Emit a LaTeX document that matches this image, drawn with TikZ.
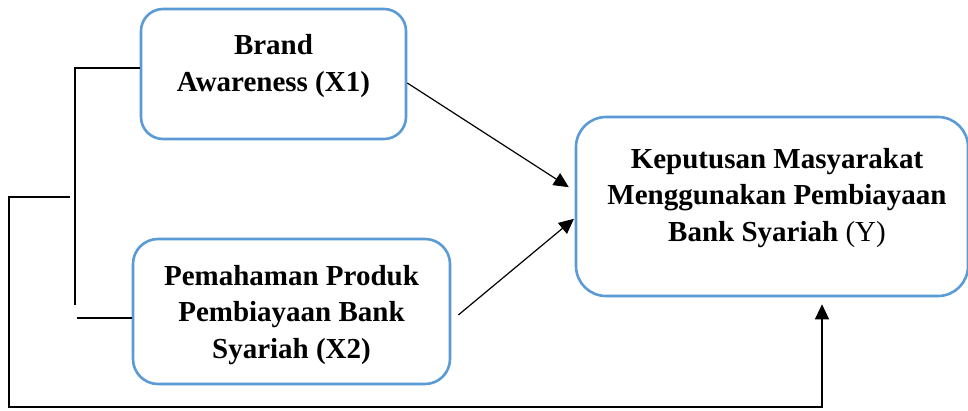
\documentclass[tikz,border=0pt]{standalone}
\usepackage{fontspec}
\setmainfont{Liberation Serif}
\usetikzlibrary{arrows.meta}
\definecolor{boxblue}{HTML}{5B9BD5}
\begin{document}
\begin{tikzpicture}[x=1pt,y=-1pt,
  box/.style={draw=boxblue, line width=2.6pt, rounded corners=#1, inner sep=0pt},
  box/.default=22pt,
  lbl/.style={align=center, font=\fontsize{29}{36.5}\selectfont\bfseries, inner sep=0pt},
  conn/.style={line width=1.2pt, black},
  arr/.style={conn, -{Triangle[length=15pt,width=14pt]}}]
\useasboundingbox (0,0) rectangle (968,410);
% boxes
\node[box=22pt, minimum width=265pt, minimum height=130pt] (x1) at (273.5,74) {};
\node[box=25pt, minimum width=317pt, minimum height=145pt] (x2) at (291.5,311.5) {};
\node[box=30pt, minimum width=392pt, minimum height=179pt] (y) at (772,206.5) {};
% texts
\node[lbl] (t1) at (273.5,66) {Brand\\Awareness (X1)};
\node[lbl] (t2) at (291.5,315) {Pemahaman Produk\\Pembiayaan Bank\\Syariah (X2)};
\node[lbl] (t3) at (777,198) {Keputusan Masyarakat\\Menggunakan Pembiayaan\\Bank Syariah \textmd{(Y)}};
% bracket
\coordinate (ca) at (75,68);
\coordinate (cb) at (75,305);
\coordinate (cc) at (77,318);
\draw[conn] (x1.west |- ca) -- (ca) -- (cb);
\draw[conn] (cc) -- (cc -| x2.west);
% outer loop to Y
\coordinate (cd) at (70,197);
\coordinate (ce) at (9,197);
\coordinate (cf) at (9,407);
\coordinate (cg) at (822,407);
\draw[arr, shorten >=7pt] (cd) -- (ce) -- (cf) -- (cg) -- (cg |- y.south);
% arrows to Y
\draw[arr, shorten >=7pt] ([yshift=-9pt]x1.east) -- ([yshift=15.5pt]y.west);
\draw[arr, shorten >=1pt] ([xshift=7pt,yshift=-3.5pt]x2.east) -- ([yshift=-11.7pt]y.west);
\end{tikzpicture}
\end{document}
